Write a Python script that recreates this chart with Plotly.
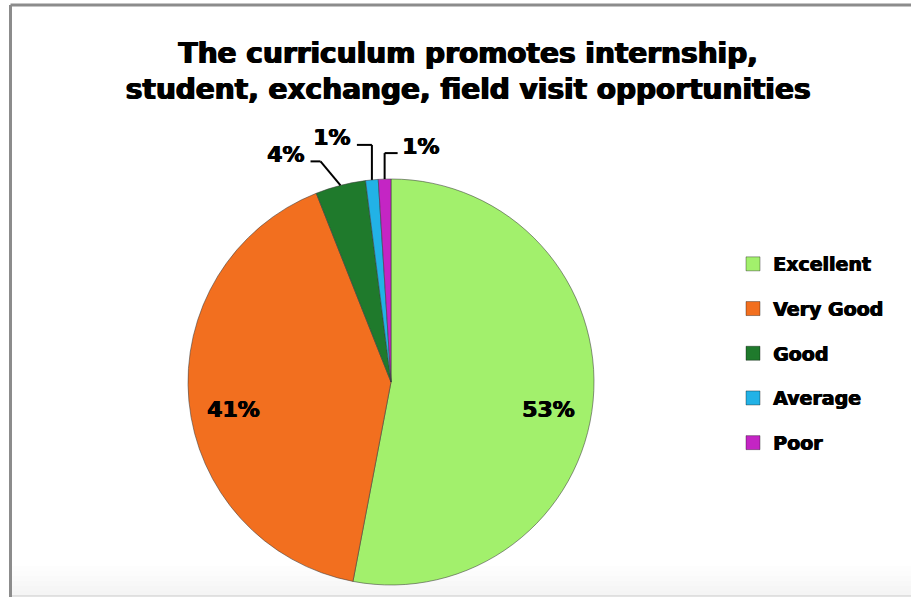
import math
import plotly.graph_objects as go

# Survey responses (percent)
categories = ["Excellent", "Very Good", "Good", "Average", "Poor"]
percentages = [53, 41, 4, 1, 1]
colors = ["#a2f06c", "#f26f1f", "#1f7a2c", "#22b2e6", "#c425c4"]

title_lines = ["The curriculum promotes internship,",
               "student, exchange, field visit opportunities"]

W, H = 911, 597
CX, CY, R = 391, 382, 203          # pie centre / radius in pixels
FONT = "DejaVu Sans"
HEAVY = "0.7px 0 0 black, -0.3px 0 0 black"


def px(x):
    return x / W


def py(y):
    return 1 - y / H


fig = go.Figure()

fig.add_trace(go.Pie(
    labels=categories,
    values=percentages,
    sort=False,
    direction="clockwise",
    rotation=0,
    marker=dict(colors=colors, line=dict(color="rgba(60,60,60,0.55)", width=1)),
    textinfo="none",
    hoverinfo="label+percent",
    showlegend=False,
    domain=dict(x=[px(CX - R), px(CX + R)], y=[py(CY + R), py(CY - R)]),
))

# Legend entries drawn as square markers, one group each for spacing
for name, col in zip(categories, colors):
    fig.add_trace(go.Scatter(
        x=[None], y=[None], mode="markers", name=name, legendgroup=name,
        marker=dict(symbol="square", size=14, color=col,
                    line=dict(color="rgba(0,0,0,0.35)", width=1)),
    ))

# Slice angles (degrees, measured counter-clockwise from 3 o'clock)
total = sum(percentages)
mids = []
start = 90.0
for v in percentages:
    span = 360.0 * v / total
    mids.append(start - span / 2)
    start -= span

annotations = []
shapes = []
label_font = dict(family=FONT, size=22, color="black", weight="bold", shadow=HEAVY)

# Large slices: label inside the slice
for v, m in zip(percentages[:2], mids[:2]):
    a = math.radians(m)
    x = CX + 0.78 * R * math.cos(a)
    y = CY - 0.78 * R * math.sin(a) + 13
    annotations.append(dict(x=px(x), y=py(y), xref="paper", yref="paper",
                            text=f"{v}%", showarrow=False, font=label_font,
                            xanchor="center", yanchor="middle"))

# Small slices: label outside with an elbow leader line
# (elbow dx, elbow dy, horizontal run, label side)
leaders = [(-20, -24, -10, "right"), (0, -35, -15, "right"), (0, -26, 13, "left")]
for v, m, (edx, edy, run, side) in zip(percentages[2:], mids[2:], leaders):
    a = math.radians(m)
    ex = CX + R * math.cos(a)
    ey = CY - R * math.sin(a)
    kx, ky = ex + edx, ey + edy
    hx = kx + run
    for (x0, y0, x1, y1) in [(ex, ey, kx, ky), (kx, ky, hx, ky)]:
        shapes.append(dict(type="line", xref="paper", yref="paper",
                           x0=px(x0), y0=py(y0), x1=px(x1), y1=py(y1),
                           line=dict(color="black", width=2)))
    lx = hx - 5 if side == "right" else hx + 2
    annotations.append(dict(x=px(lx), y=py(ky - 7), xref="paper", yref="paper",
                            text=f"{v}%", showarrow=False, font=label_font,
                            xanchor=side, yanchor="middle"))

# Chart frame
shapes.append(dict(type="line", xref="paper", yref="paper",
                   x0=px(10.5), y0=py(5), x1=1.0, y1=py(5),
                   line=dict(color="#8c8c8c", width=3)))
shapes.append(dict(type="line", xref="paper", yref="paper",
                   x0=px(10.5), y0=py(5), x1=px(10.5), y1=0,
                   line=dict(color="#8c8c8c", width=3)))
shapes.append(dict(type="line", xref="paper", yref="paper",
                   x0=px(12), y0=py(596), x1=1.0, y1=py(596),
                   line=dict(color="#c8c8c8", width=1)))
# faint shading toward the bottom edge of the frame
for i in range(6):
    y0 = 566 + i * 5
    shapes.append(dict(type="rect", xref="paper", yref="paper",
                       x0=px(12), y0=py(y0 + 5), x1=1.0, y1=py(y0),
                       fillcolor=f"rgba(225,225,225,{0.05 + i * 0.06:.2f})",
                       line=dict(width=0), layer="below"))

fig.update_layout(
    width=W, height=H,
    margin=dict(l=0, r=0, t=0, b=0),
    paper_bgcolor="white",
    plot_bgcolor="white",
    title=dict(text="<br>".join(title_lines), x=px(468), y=py(63),
               xanchor="center", yanchor="middle",
               font=dict(family=FONT, size=28, color="black", weight="bold",
                         shadow="1px 0 0 black, -0.5px 0 0 black")),
    xaxis=dict(visible=False),
    yaxis=dict(visible=False),
    legend=dict(x=px(733), y=py(245), xanchor="left", yanchor="top",
                traceorder="grouped", tracegroupgap=17, itemwidth=30,
                font=dict(family=FONT, size=19, color="black", weight="bold",
                          shadow=HEAVY),
                bgcolor="rgba(0,0,0,0)"),
    annotations=annotations,
    shapes=shapes,
)

fig.write_html("out.html")
